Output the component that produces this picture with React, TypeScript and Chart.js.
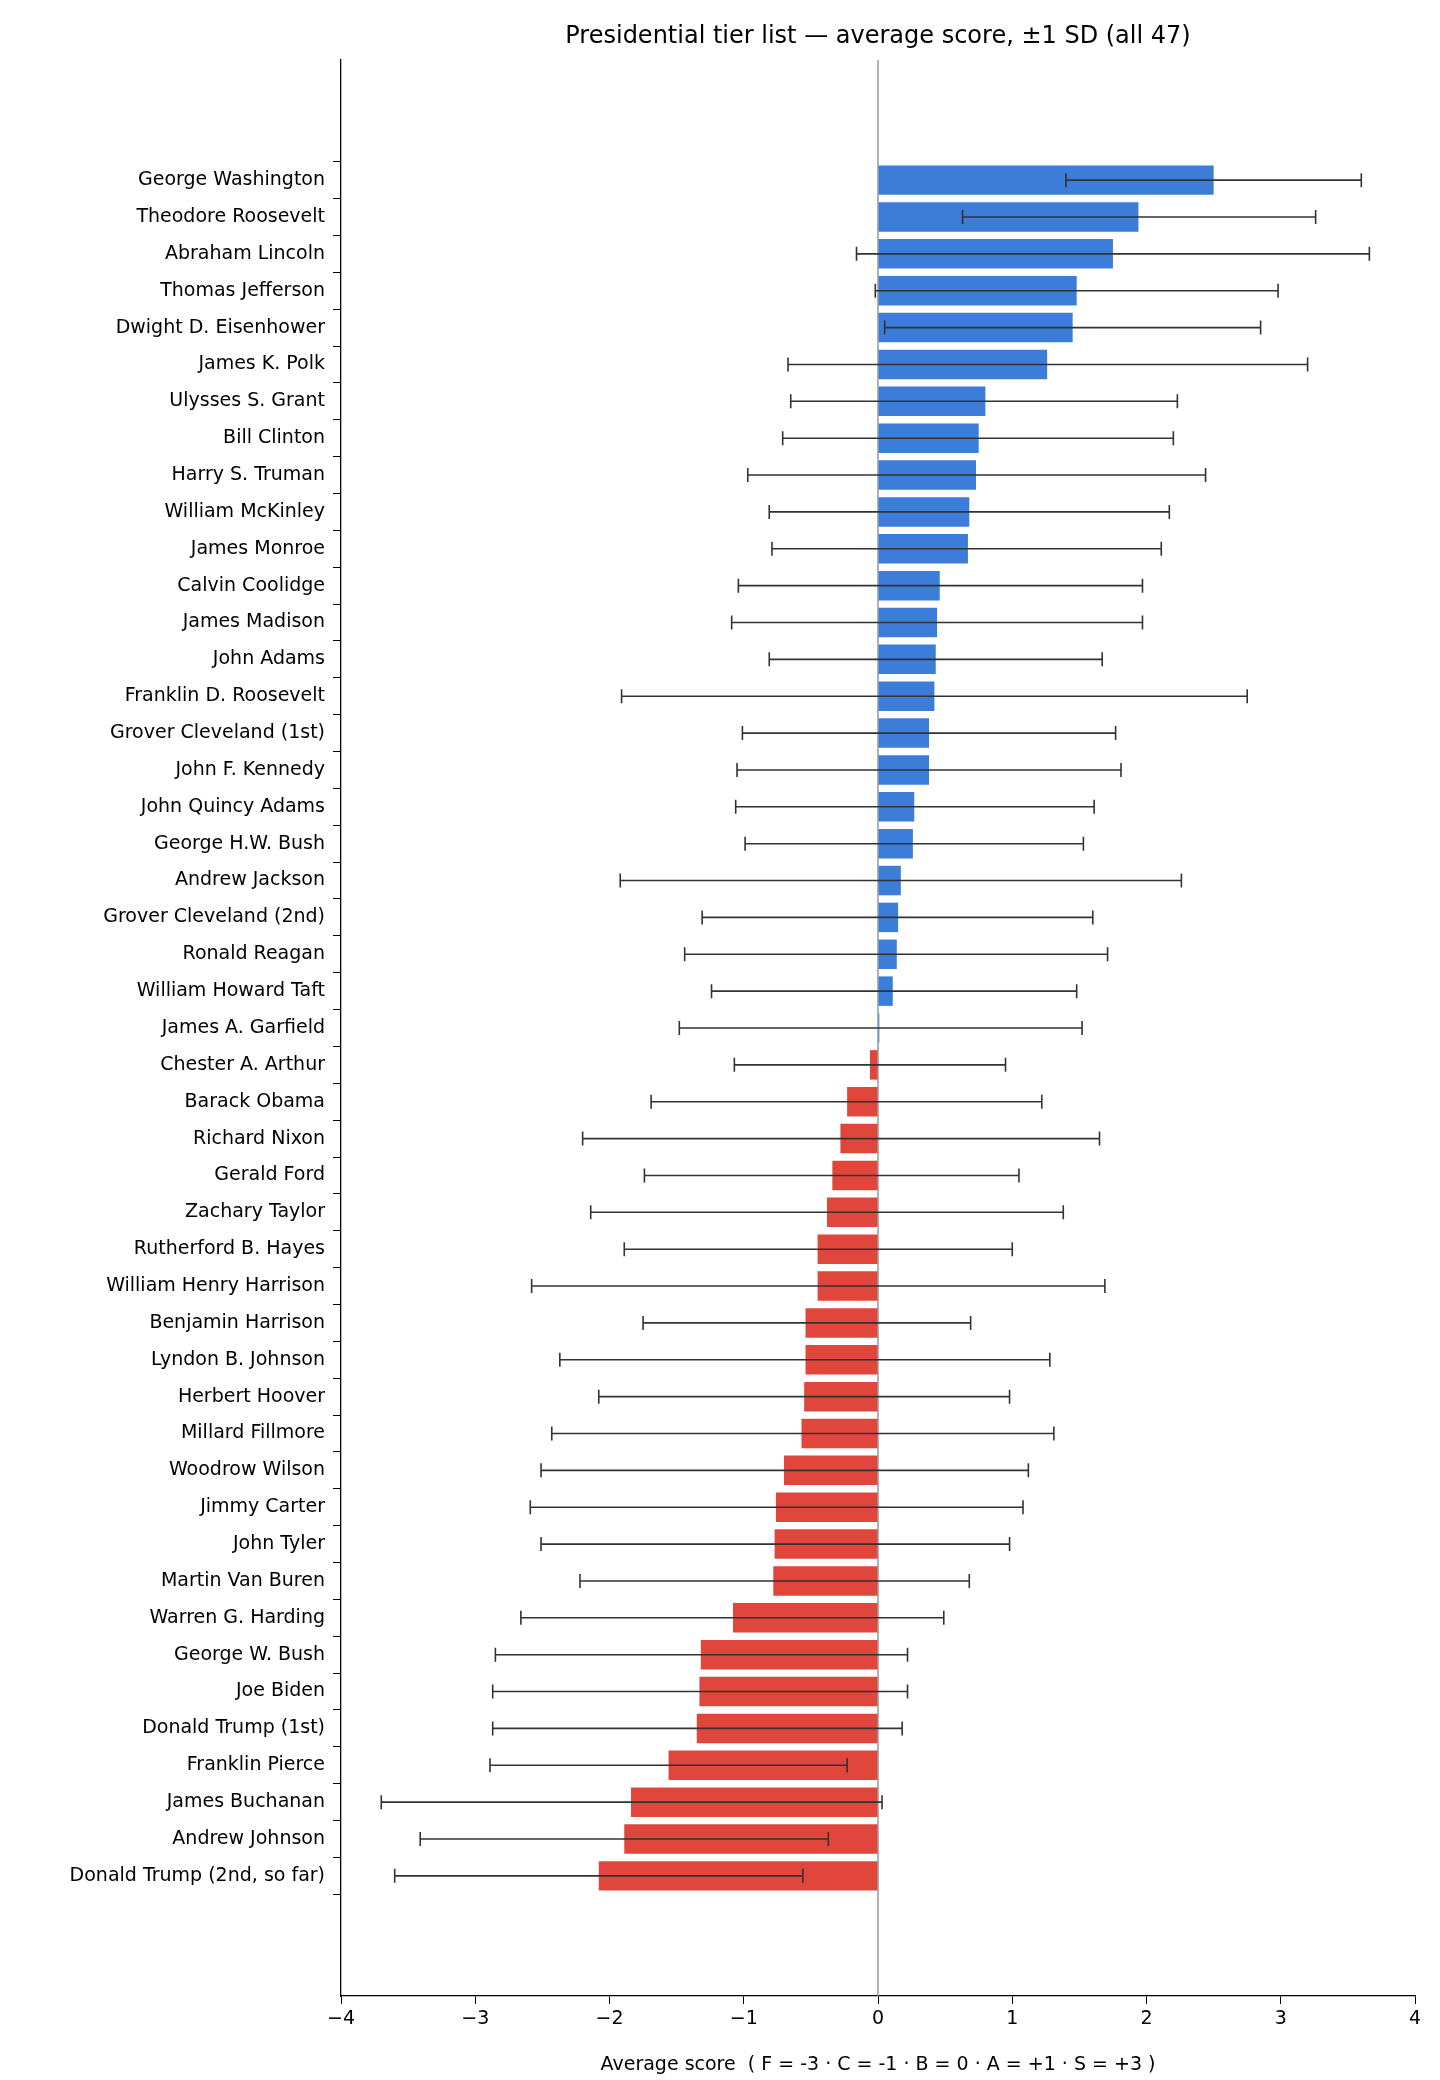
import React, { useEffect, useRef } from "react";
import { Chart, registerables } from "chart.js";
Chart.register(...registerables);

const names = ["George Washington","Theodore Roosevelt","Abraham Lincoln","Thomas Jefferson","Dwight D. Eisenhower","James K. Polk","Ulysses S. Grant","Bill Clinton","Harry S. Truman","William McKinley","James Monroe","Calvin Coolidge","James Madison","John Adams","Franklin D. Roosevelt","Grover Cleveland (1st)","John F. Kennedy","John Quincy Adams","George H.W. Bush","Andrew Jackson","Grover Cleveland (2nd)","Ronald Reagan","William Howard Taft","James A. Garfield","Chester A. Arthur","Barack Obama","Richard Nixon","Gerald Ford","Zachary Taylor","Rutherford B. Hayes","William Henry Harrison","Benjamin Harrison","Lyndon B. Johnson","Herbert Hoover","Millard Fillmore","Woodrow Wilson","Jimmy Carter","John Tyler","Martin Van Buren","Warren G. Harding","George W. Bush","Joe Biden","Donald Trump (1st)","Franklin Pierce","James Buchanan","Andrew Johnson","Donald Trump (2nd, so far)"];
const means = [2.50,1.94,1.75,1.48,1.45,1.26,0.80,0.75,0.73,0.68,0.67,0.46,0.44,0.43,0.42,0.38,0.38,0.27,0.26,0.17,0.15,0.14,0.11,0.01,-0.06,-0.23,-0.28,-0.34,-0.38,-0.45,-0.45,-0.54,-0.54,-0.55,-0.57,-0.70,-0.76,-0.77,-0.78,-1.08,-1.32,-1.33,-1.35,-1.56,-1.84,-1.89,-2.08];
const lows = [1.40,0.63,-0.16,-0.02,0.05,-0.67,-0.65,-0.71,-0.97,-0.81,-0.79,-1.04,-1.09,-0.81,-1.91,-1.01,-1.05,-1.06,-0.99,-1.92,-1.31,-1.44,-1.24,-1.48,-1.07,-1.69,-2.20,-1.74,-2.14,-1.89,-2.58,-1.75,-2.37,-2.08,-2.43,-2.51,-2.59,-2.51,-2.22,-2.66,-2.85,-2.87,-2.87,-2.89,-3.70,-3.41,-3.60];
const highs = [3.60,3.26,3.66,2.98,2.85,3.20,2.23,2.20,2.44,2.17,2.11,1.97,1.97,1.67,2.75,1.77,1.81,1.61,1.53,2.26,1.60,1.71,1.48,1.52,0.95,1.22,1.65,1.05,1.38,1.00,1.69,0.69,1.28,0.98,1.31,1.12,1.08,0.98,0.68,0.49,0.22,0.22,0.18,-0.23,0.03,-0.37,-0.56];
const xTicks = [-4,-3,-2,-1,0,1,2,3,4];
const title = "Presidential tier list — average score, ±1 SD (all 47)";
const xTitle = "Average score  ( F = -3 · C = -1 · B = 0 · A = +1 · S = +3 )";

const FONT = "'DejaVu Sans', sans-serif";

export default function App() {
  const ref = useRef<HTMLCanvasElement>(null);
  useEffect(() => {
    document.body.style.margin = "0";
    const extras = {
      id: "extras",
      beforeDatasetsDraw(c: any) {
        const ctx = c.ctx, x = c.scales.x, a = c.chartArea;
        ctx.save();
        ctx.strokeStyle = "#888";
        ctx.lineWidth = 1.3;
        const px = x.getPixelForValue(0);
        ctx.beginPath(); ctx.moveTo(px, a.top); ctx.lineTo(px, a.bottom); ctx.stroke();
        ctx.restore();
      },
      afterDatasetsDraw(c: any) {
        const ctx = c.ctx, x = c.scales.x, y = c.scales.y;
        ctx.save();
        ctx.strokeStyle = "#333";
        ctx.lineWidth = 1.6;
        means.forEach((_, i) => {
          const py = y.getPixelForValue(i);
          const x1 = x.getPixelForValue(lows[i]), x2 = x.getPixelForValue(highs[i]);
          ctx.beginPath();
          ctx.moveTo(x1, py); ctx.lineTo(x2, py);
          ctx.moveTo(x1, py - 7); ctx.lineTo(x1, py + 7);
          ctx.moveTo(x2, py - 7); ctx.lineTo(x2, py + 7);
          ctx.stroke();
        });
        ctx.fillStyle = "#000";
        ctx.font = `24px ${FONT}`;
        ctx.textAlign = "center";
        ctx.textBaseline = "middle";
        ctx.fillText(title, (c.chartArea.left + c.chartArea.right) / 2, 37);
        ctx.restore();
      },
    };
    const chart = new Chart(ref.current!, {
      type: "bar",
      data: {
        datasets: [{
          data: means.map((m, i) => ({ x: m, y: i })),
          backgroundColor: means.map((m) => (m >= 0 ? "#3b7dd8" : "#e0463c")),
          categoryPercentage: 0.8,
          barPercentage: 1,
        }],
      },
      options: {
        indexAxis: "y",
        animation: false,
        responsive: false,
        devicePixelRatio: 1,
        layout: { padding: { top: 60, right: 25, left: 0, bottom: 0 } },
        plugins: { legend: { display: false }, tooltip: { enabled: false }, title: { display: false } },
        scales: {
          x: {
            type: "linear", min: -4, max: 4,
            afterBuildTicks: (s: any) => { s.ticks = xTicks.map((v) => ({ value: v })); },
            afterFit: (s: any) => { s.height = 84; },
            ticks: { color: "#000", font: { family: FONT, size: 19 }, padding: 4,
              callback: (v: any) => String(v).replace("-", "−") },
            grid: { drawOnChartArea: false, drawTicks: true, tickLength: 8, color: "#000" },
            border: { display: true, color: "#000", width: 1.3 },
            title: { display: true, text: xTitle, color: "#000", font: { family: FONT, size: 19 }, padding: { top: 2 } },
          },
          y: {
            type: "linear", min: -2.7, max: 48.7, reverse: true,
            afterBuildTicks: (s: any) => { s.ticks = names.map((_, i) => ({ value: i })); },
            afterFit: (s: any) => { s.width = 341; },
            ticks: { color: "#000", font: { family: FONT, size: 19 }, padding: 8, autoSkip: false,
              callback: (v: any) => names[v] ?? "" },
            grid: { drawOnChartArea: false, drawTicks: true, tickLength: 8, color: "#000" },
            border: { display: true, color: "#000", width: 1.3 },
          },
        },
      },
      plugins: [extras],
    } as any);
    return () => chart.destroy();
  }, []);
  return <canvas ref={ref} width={1440} height={2080} style={{ display: "block" }} />;
}
